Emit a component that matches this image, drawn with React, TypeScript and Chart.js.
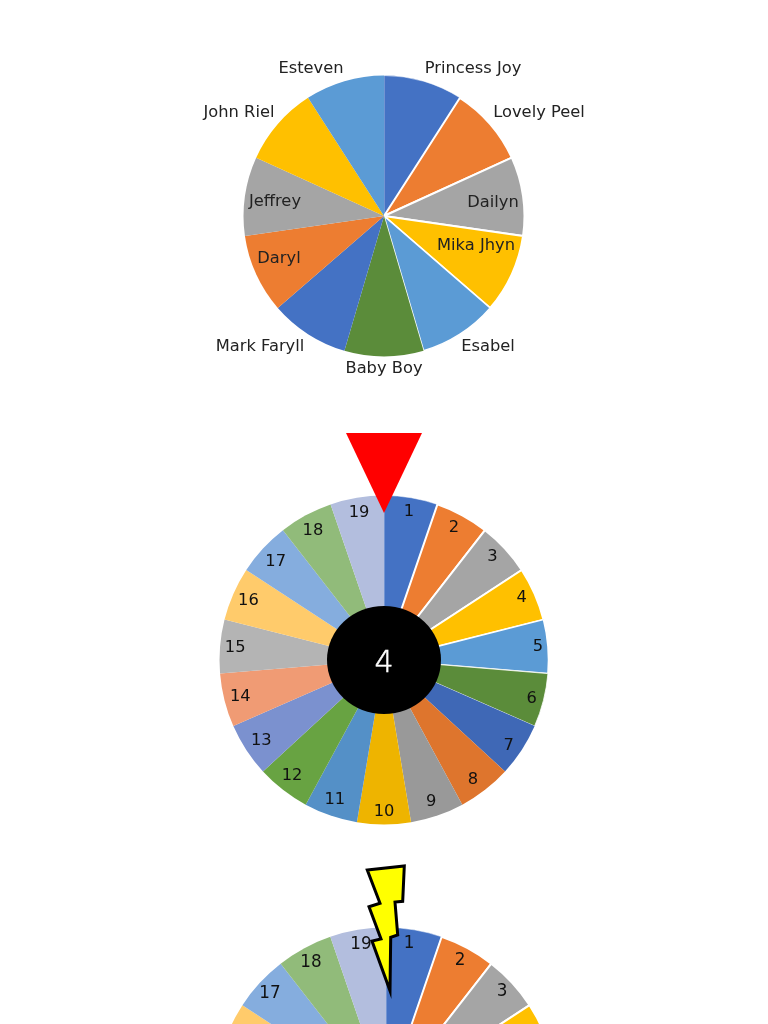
import React, { useEffect, useRef } from "react";
import { Chart, registerables } from "chart.js";

Chart.register(...registerables);

const nameLabels = ["Princess Joy", "Lovely Peel", "Dailyn", "Mika Jhyn", "Esabel", "Baby Boy", "Mark Faryll", "Daryl", "Jeffrey", "John Riel", "Esteven"];
const nameValues = [1, 1, 1, 1, 1, 1, 1, 1, 1, 1, 1];
const nameColors = ["#4472C4", "#ED7D31", "#A5A5A5", "#FFC000", "#5B9BD5", "#5B8C3A", "#4472C4", "#ED7D31", "#A5A5A5", "#FFC000", "#5B9BD5"];
const nameSeams = [0.5, 2, 2, 2, 1.5, 0, 0, 0, 0, 0, 0];
const nameOffsets = [[89, -147], [155, -103], [109, -13], [92, 30], [104, 131], [0, 153], [-124, 131], [-105, 43], [-109, -14], [-145, -103], [-73, -147]];

const numberLabels = ["1", "2", "3", "4", "5", "6", "7", "8", "9", "10", "11", "12", "13", "14", "15", "16", "17", "18", "19"];
const numberValues = [1, 1, 1, 1, 1, 1, 1, 1, 1, 1, 1, 1, 1, 1, 1, 1, 1, 1, 1];
const numberColors = ["#4472C4", "#ED7D31", "#A5A5A5", "#FFC000", "#5B9BD5", "#5B8C3A", "#3F68B6", "#DE752D", "#999999", "#EEB400", "#5490C7", "#68A342", "#7B91CF", "#F09B74", "#B4B4B4", "#FFCB6B", "#85ADDE", "#91BB7A", "#B3BEDE"];
const numberSeams = [0.5, 2, 2, 2, 1.5, 0.8, 0, 0, 0, 0, 0, 0, 0, 0, 0, 0, 0, 0, 0];
const middleNudges = [[0, 1], [-2, 1], [-3, -1], [-1, -1], [3, -1], [1, 2], [-2, 3], [-4, 0], [-2, -1], [0, 0], [0, -3], [1, -4], [4, -2], [3, 0], [2, 0], [3, 2], [3, 4], [1, 4], [0, 2]];
const lowerNudges = [[-3, 0], [-1, 0], [0, 0], [0, 0], [0, 0], [0, 0], [0, 0], [0, 0], [0, 0], [0, 0], [0, 0], [0, 0], [0, 0], [0, 0], [0, 0], [0, 2], [0, 2], [0, 2], [1, 1]];
const wheelResult = "4";

const labelPlugin = {
  id: "sliceLabels",
  afterDatasetsDraw(chart: any, _a: any, opts: any) {
    const { ctx } = chart;
    const meta = chart.getDatasetMeta(0);
    ctx.save();
    ctx.font = opts.font;
    ctx.fillStyle = opts.color;
    ctx.textAlign = "center";
    ctx.textBaseline = "middle";
    meta.data.forEach((arc: any, i: number) => {
      const mid = (arc.startAngle + arc.endAngle) / 2;
      const cx = arc.x;
      const cy = arc.y;
      const r = arc.outerRadius;
      let x = cx + Math.cos(mid) * r * (opts.factor || 0.92);
      let y = cy + Math.sin(mid) * r * (opts.factor || 0.92);
      if (opts.offsets) {
        x = cx + opts.offsets[i][0];
        y = cy + opts.offsets[i][1];
      }
      if (opts.nudges) {
        x += opts.nudges[i][0];
        y += opts.nudges[i][1];
      }
      ctx.fillText(chart.data.labels[i], x, y);
    });
    ctx.restore();
  },
};

const hubPlugin = {
  id: "hub",
  afterDraw(chart: any, _a: any, opts: any) {
    if (!opts.show) return;
    const { ctx } = chart;
    const arc = chart.getDatasetMeta(0).data[0];
    const cx = arc.x;
    const cy = arc.y;
    ctx.save();
    ctx.fillStyle = "#000";
    ctx.beginPath();
    ctx.ellipse(cx, cy, 57, 54, 0, 0, Math.PI * 2);
    ctx.fill();
    ctx.fillStyle = "#fff";
    ctx.strokeStyle = "#fff";
    ctx.lineWidth = 0.5;
    ctx.font = "200 30px 'DejaVu Sans'";
    ctx.textAlign = "center";
    ctx.textBaseline = "middle";
    ctx.fillText(opts.text, cx, cy + 4);
    ctx.strokeText(opts.text, cx, cy + 4);
    ctx.fillStyle = "#FF0000";
    ctx.beginPath();
    ctx.moveTo(cx - 38, cy - 227);
    ctx.lineTo(cx + 38, cy - 227);
    ctx.lineTo(cx, cy - 147);
    ctx.closePath();
    ctx.fill();
    ctx.restore();
  },
};

const boltPlugin = {
  id: "bolt",
  afterDraw(chart: any, _a: any, opts: any) {
    if (!opts.show) return;
    const { ctx } = chart;
    const arc = chart.getDatasetMeta(0).data[0];
    const cx = arc.x;
    const cy = arc.y;
    const pts = [[-18.7, -229], [18.3, -233], [16.7, -197.7], [9, -197], [11.7, -164], [4.7, -161.7], [4, -108.3], [-14, -158], [-5, -160], [-17, -192.3], [-6, -195.7]];
    ctx.save();
    ctx.beginPath();
    pts.forEach(([x, y], i) => (i ? ctx.lineTo(cx + x, cy + y) : ctx.moveTo(cx + x, cy + y)));
    ctx.closePath();
    ctx.fillStyle = "#FFFF00";
    ctx.fill();
    ctx.lineWidth = 3;
    ctx.strokeStyle = "#000";
    ctx.lineJoin = "miter";
    ctx.stroke();
    ctx.restore();
  },
};

function Wheel({ labels, values, colors, seams, left, top, size, padding, labelOpts, hub, bolt }: any) {
  const ref = useRef<HTMLCanvasElement>(null);
  useEffect(() => {
    const chart = new Chart(ref.current as HTMLCanvasElement, {
      type: "pie",
      data: { labels, datasets: [{ data: values, backgroundColor: colors, borderColor: "#fff", borderWidth: seams }] },
      options: {
        animation: false,
        responsive: false,
        layout: { padding },
        plugins: {
          legend: { display: false },
          tooltip: { enabled: false },
          title: { display: false },
          sliceLabels: labelOpts,
          hub: hub || { show: false },
          bolt: bolt || { show: false },
        },
      } as any,
      plugins: [labelPlugin, hubPlugin, boltPlugin],
    });
    return () => chart.destroy();
  }, []);
  return (
    <canvas
      ref={ref}
      width={size}
      height={size}
      style={{ position: "absolute", left, top, width: size, height: size, display: "block", filter: "blur(0.35px)" }}
    />
  );
}

export default function App() {
  return (
    <div style={{ position: "absolute", left: 0, top: 0, width: 768, height: 1024, overflow: "hidden", background: "#fff" }}>
      <Wheel
        labels={nameLabels}
        values={nameValues}
        colors={nameColors}
        seams={nameSeams}
        left={134}
        top={-34}
        size={500}
        padding={108.5}
        labelOpts={{ font: "16.3px 'DejaVu Sans'", color: "#222", offsets: nameOffsets }}
      />
      <Wheel
        labels={numberLabels}
        values={numberValues}
        colors={numberColors}
        seams={numberSeams}
        left={84}
        top={360}
        size={600}
        padding={134.5}
        labelOpts={{ font: "16.3px 'DejaVu Sans'", color: "#111", factor: 0.92, nudges: middleNudges }}
        hub={{ show: true, text: wheelResult }}
      />
      <Wheel
        labels={numberLabels}
        values={numberValues}
        colors={numberColors}
        seams={numberSeams}
        left={86}
        top={799}
        size={600}
        padding={127.5}
        labelOpts={{ font: "16.8px 'DejaVu Sans'", color: "#111", factor: 0.92, nudges: lowerNudges }}
        bolt={{ show: true }}
      />
    </div>
  );
}
